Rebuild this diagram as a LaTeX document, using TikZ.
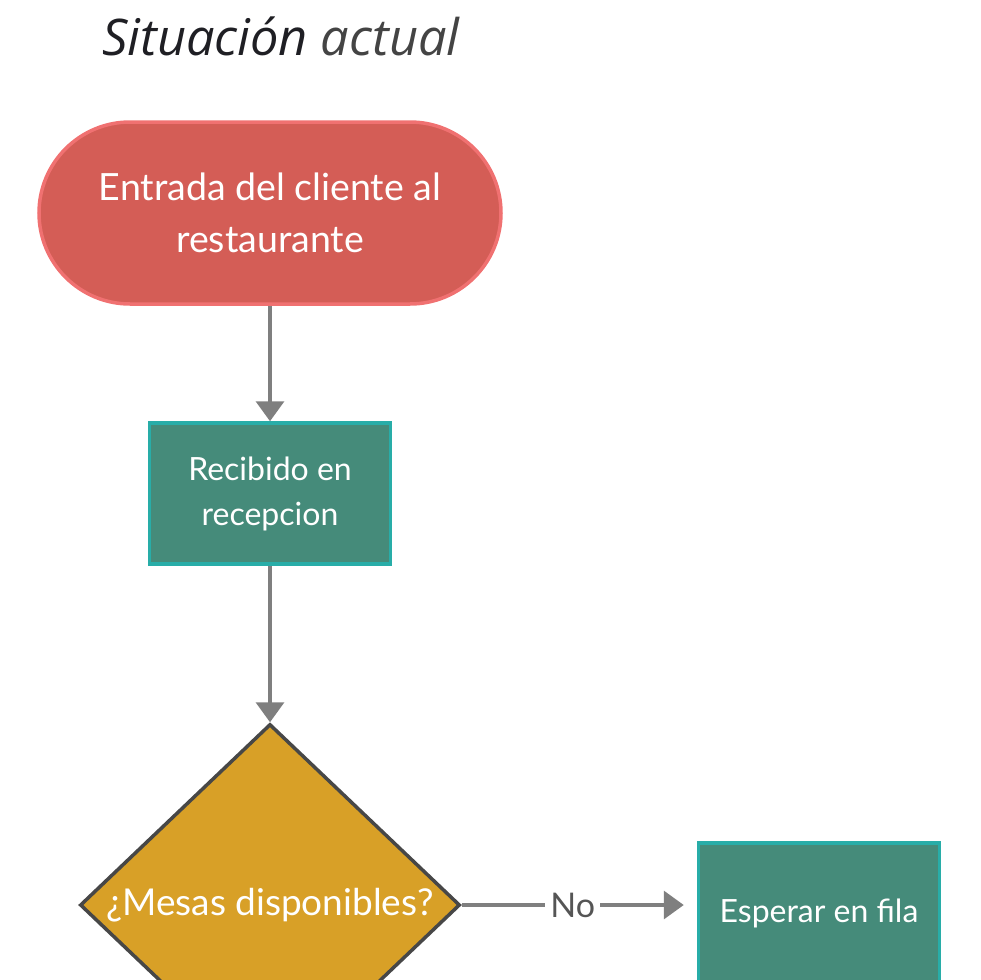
\documentclass[tikz,border=0pt]{standalone}
\usepackage{fontspec}
\setmainfont{Lato}
\newfontfamily\titlefont{Open Sans}
\usetikzlibrary{arrows.meta,shapes.geometric,calc}
\definecolor{termfill}{HTML}{D45D56}
\definecolor{termline}{HTML}{F07171}
\definecolor{procfill}{HTML}{458B7A}
\definecolor{procline}{HTML}{28ADA8}
\definecolor{decfill}{HTML}{D8A027}
\definecolor{decline}{HTML}{474747}
\definecolor{arrgray}{HTML}{7F7F7F}
\definecolor{titledark}{HTML}{1F1F24}
\definecolor{titlegray}{HTML}{444444}
\definecolor{labelgray}{HTML}{555555}
\tikzset{
  terminal/.style={draw=termline, fill=termfill, line width=3.5pt, rounded corners=91pt,
    minimum width=462pt, minimum height=182pt, text=white, align=center,
    font=\fontsize{37.5}{52}\selectfont},
  procbox/.style={draw=procline, fill=procfill, line width=3.5pt,
    minimum width=241pt, minimum height=141pt, text=white, align=center,
    font=\fontsize{32}{45}\selectfont},
  decbox/.style={draw=decline, fill=decfill, line width=3.5pt, diamond, aspect=1.05,
    inner sep=0pt, minimum width=380pt, minimum height=362pt},
  dectext/.style={text=white, font=\fontsize{37}{42}\selectfont},
  flow/.style={draw=arrgray, line width=3.5pt, -{Triangle[length=20pt,width=28pt]}},
  edgelabel/.style={fill=white, text=labelgray, font=\fontsize{34}{40}\selectfont, inner sep=5pt}
}
\begin{document}
\begin{tikzpicture}[x=1pt,y=-1pt]
\useasboundingbox (0,0) rectangle (980,980);
\node[anchor=base west, inner sep=0pt, font=\titlefont\itshape\fontsize{50.5}{56}\selectfont]
  (title) at (102,55) {\textcolor{titledark}{Situación} \textcolor{titlegray}{actual}};
\node[terminal] (entrada) at (270,213) {Entrada del cliente al\\restaurante};
\node[procbox] (recibido) at (270,493.5) {Recibido en\\recepcion};
\node[decbox] (mesas) at (270,905) {};
\node[dectext] (mesastxt) at (mesas.center) {¿Mesas disponibles?};
\node[procbox] (esperar) at (819,913.5) {Esperar en fila};
\coordinate (noend) at ($(mesas.east -| esperar.west)+(-13,0)$);
\draw[flow] (entrada) -- (recibido);
\draw[flow] (recibido) -- (mesas.north);
\draw[flow] (mesas.east) -- (noend)
  node[edgelabel, midway] (no) {No};
\end{tikzpicture}
\end{document}
